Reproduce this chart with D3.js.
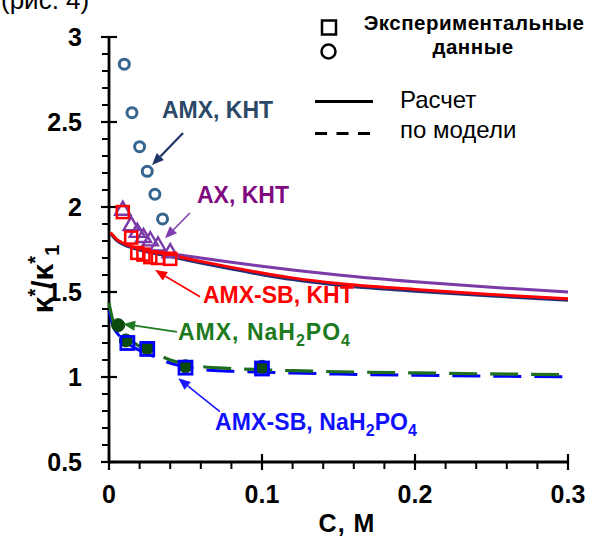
<!DOCTYPE html>
<html>
<head>
<meta charset="utf-8">
<script src="https://cdn.jsdelivr.net/npm/d3@7"></script>
<style>
  html, body { margin: 0; padding: 0; background: #fff; }
  svg { display: block; }
  text { font-family: "Liberation Sans", Arial, sans-serif; }
</style>
</head>
<body>
<svg id="chart" width="594" height="539"></svg>
<script>
// ---- Experimental data ----
const cAmxKHT = [0.01, 0.015, 0.02, 0.025, 0.03, 0.035];
const kAmxKHT = [2.84, 2.555, 2.355, 2.21, 2.075, 1.93];

const cSbKHT = [0.009, 0.0145, 0.0185, 0.0225, 0.027, 0.032, 0.04];
const kAxKHT = [1.98, 1.89, 1.85, 1.82, 1.80, 1.77, 1.73];
const kSbKHT = [1.97, 1.82, 1.73, 1.72, 1.705, 1.70, 1.695];

const cAmxPhos = [0.006, 0.011, 0.025, 0.05, 0.1];
const kAmxPhos = [1.305, 1.215, 1.17, 1.063, 1.06];
const cSbPhos = [0.012, 0.025, 0.05, 0.1];
const kSbPhos = [1.20, 1.165, 1.055, 1.05];

// ---- Model curves ----
const cModelKHT = [0.001, 0.005, 0.01, 0.02, 0.03, 0.04, 0.06, 0.08, 0.1, 0.12, 0.15, 0.2, 0.25, 0.3];
const mSbKHT    = [1.85, 1.81, 1.785, 1.755, 1.735, 1.718, 1.68, 1.645, 1.612, 1.583, 1.55, 1.515, 1.485, 1.46];
const mAmxKHT   = [1.845, 1.803, 1.777, 1.746, 1.726, 1.708, 1.67, 1.635, 1.602, 1.573, 1.54, 1.505, 1.476, 1.451];
const cModelAX  = [0.035, 0.04, 0.06, 0.08, 0.1, 0.12, 0.15, 0.2, 0.25, 0.3];
const mAxKHT    = [1.735, 1.727, 1.70, 1.675, 1.652, 1.63, 1.60, 1.56, 1.528, 1.50];

const cModelPhos = [0, 0.003, 0.006, 0.01, 0.015, 0.02, 0.025, 0.03, 0.04, 0.05, 0.06, 0.08, 0.1, 0.12, 0.15, 0.2, 0.25, 0.3];
const mAmxPhos   = [1.435, 1.32, 1.285, 1.245, 1.21, 1.18, 1.16, 1.14, 1.10, 1.077, 1.062, 1.05, 1.043, 1.037, 1.031, 1.024, 1.018, 1.014];
const mSbPhos    = [1.40, 1.30, 1.26, 1.22, 1.19, 1.165, 1.145, 1.128, 1.09, 1.068, 1.054, 1.043, 1.037, 1.032, 1.026, 1.019, 1.014, 1.01];

// ---- Axis ticks ----
const xMajor = [0, 0.1, 0.2, 0.3];
const xMajorLabels = ["0", "0.1", "0.2", "0.3"];
const yMajor = [0.5, 1, 1.5, 2, 2.5, 3];
const yMajorLabels = ["0.5", "1", "1.5", "2", "2.5", "3"];

// ---- Annotations (data units) ----
const labels = [
  { text: "AMX, KHT", x: 0.0346, y: 2.524, color: "#2b4868" },
  { text: "AX, KHT", x: 0.0575, y: 2.022, color: "#7f0a80" },
  { text: "AMX-SB, KHT", x: 0.0614, y: 1.434, color: "#ff0000" },
];
const arrows = [
  { x1: 0.0484, y1: 2.435, x2: 0.0281, y2: 2.247, color: "#1f3568", w: 2.2 },
  { x1: 0.0529, y1: 1.965, x2: 0.0366, y2: 1.816, color: "#7f3fb0", w: 1.6 },
  { x1: 0.0595, y1: 1.472, x2: 0.0301, y2: 1.629, color: "#ff0000", w: 1.6 },
  { x1: 0.0444, y1: 1.265, x2: 0.0092, y2: 1.312, color: "#1f7a1f", w: 1.8 },
  { x1: 0.0725, y1: 0.796, x2: 0.0453, y2: 0.992, color: "#1a1aff", w: 1.6 },
];

const svg = d3.select("#chart");
const x = d3.scaleLinear().domain([0, 0.3]).range([109, 568]);
const y = d3.scaleLinear().domain([0.5, 3]).range([462, 37]);

// caption line of the page above the figure, cut by the top edge
svg.append("text").attr("x", 1).attr("y", 9)
  .attr("font-family", "'Liberation Serif', serif").attr("font-size", 26)
  .text("(рис. 4)");

// ---- Axes ----
const ax = svg.append("g").attr("stroke", "#000");
// minor ticks
d3.range(0.02, 0.3, 0.02).forEach(v => {
  if (Math.abs(v * 10 - Math.round(v * 10)) < 1e-6) return;
  ax.append("line").attr("x1", x(v)).attr("x2", x(v)).attr("y1", y(0.5)).attr("y2", y(0.5) + 7).attr("stroke-width", 2);
});
d3.range(0.6, 3.0, 0.1).forEach(v => {
  if (Math.abs(v * 2 - Math.round(v * 2)) < 1e-6) return;
  ax.append("line").attr("x1", x(0) - 7).attr("x2", x(0)).attr("y1", y(v)).attr("y2", y(v)).attr("stroke-width", 2);
});
xMajor.forEach(v => ax.append("line").attr("x1", x(v)).attr("x2", x(v)).attr("y1", y(0.5) - 8).attr("y2", y(0.5) + 8).attr("stroke-width", 2.2));
yMajor.forEach(v => ax.append("line").attr("x1", x(0) - 8).attr("x2", x(0) + 8).attr("y1", y(v)).attr("y2", y(v)).attr("stroke-width", 2.2));
ax.append("line").attr("x1", x(0)).attr("x2", x(0.3)).attr("y1", y(0.5)).attr("y2", y(0.5)).attr("stroke-width", 2.8);
ax.append("line").attr("x1", x(0)).attr("x2", x(0)).attr("y1", y(0.5)).attr("y2", y(3)).attr("stroke-width", 2.8);

svg.append("g").selectAll("text").data(xMajor).join("text")
  .attr("x", d => x(d)).attr("y", 503).attr("text-anchor", "middle")
  .attr("font-size", 25).attr("font-weight", "bold").text((d, i) => xMajorLabels[i]);
svg.append("g").selectAll("text").data(yMajor).join("text")
  .attr("x", 82).attr("y", d => y(d) + 9).attr("text-anchor", "end")
  .attr("font-size", 25).attr("font-weight", "bold").text((d, i) => yMajorLabels[i]);

svg.append("text").attr("x", 347).attr("y", 532).attr("text-anchor", "middle")
  .attr("font-size", 25).attr("font-weight", "bold").attr("letter-spacing", 1).text("C, M");

const yt = svg.append("text").attr("transform", "translate(53,279) rotate(-90)")
  .attr("text-anchor", "middle").attr("font-size", 30).attr("font-weight", "bold");
yt.append("tspan").text("κ");
yt.append("tspan").attr("dy", -11).attr("font-size", 20).text("*");
yt.append("tspan").attr("dy", 11).text("/κ");
yt.append("tspan").attr("dy", -11).attr("font-size", 20).text("*");
yt.append("tspan").attr("dy", 17).attr("font-size", 20).text("1");

// ---- Model lines ----
const line = d3.line().x(d => x(d[0])).y(d => y(d[1])).curve(d3.curveMonotoneX);
const zip = (a, b) => a.map((v, i) => [v, b[i]]);

const plot = svg.append("g");
plot.append("path").datum(zip(cModelPhos, mSbPhos)).attr("d", line)
  .attr("fill", "none").attr("stroke", "#0000ff").attr("stroke-width", 3).attr("stroke-dasharray", "28,13")
  .attr("transform", "translate(0,1.5)");
plot.append("path").datum(zip(cModelPhos, mAmxPhos)).attr("d", line)
  .attr("fill", "none").attr("stroke", "#1f6e1f").attr("stroke-width", 3.2).attr("stroke-dasharray", "28,13");
plot.append("path").datum(zip(cModelKHT, mAmxKHT)).attr("d", line)
  .attr("fill", "none").attr("stroke", "#1f2f78").attr("stroke-width", 3);
plot.append("path").datum(zip(cModelAX, mAxKHT)).attr("d", line)
  .attr("fill", "none").attr("stroke", "#7a3aa8").attr("stroke-width", 3);
plot.append("path").datum(zip(cModelKHT, mSbKHT)).attr("d", line)
  .attr("fill", "none").attr("stroke", "#ff0000").attr("stroke-width", 3);

// ---- Markers ----
const tri = d3.symbol().type(d3.symbolTriangle).size(100);
plot.append("g").selectAll("path").data(zip(cSbKHT, kAxKHT)).join("path")
  .attr("d", tri).attr("transform", d => `translate(${x(d[0])},${y(d[1])})`)
  .attr("fill", "none").attr("stroke", "#7a3aa8").attr("stroke-width", 2.4);
plot.append("g").selectAll("rect").data(zip(cSbKHT, kSbKHT)).join("rect")
  .attr("x", d => x(d[0]) - 6).attr("y", d => y(d[1]) - 6).attr("width", 12).attr("height", 12)
  .attr("fill", "none").attr("stroke", "#ff0000").attr("stroke-width", 2.5);
plot.append("g").selectAll("circle").data(zip(cAmxKHT, kAmxKHT)).join("circle")
  .attr("cx", d => x(d[0])).attr("cy", d => y(d[1])).attr("r", 5)
  .attr("fill", "none").attr("stroke", "#35668f").attr("stroke-width", 3);
plot.append("g").selectAll("circle").data(zip(cAmxPhos, kAmxPhos)).join("circle")
  .attr("cx", d => x(d[0])).attr("cy", d => y(d[1])).attr("r", 6.5)
  .attr("fill", "#0b4a0b").attr("stroke", "#0b4a0b").attr("stroke-width", 1);
plot.append("g").selectAll("rect").data(zip(cSbPhos, kSbPhos)).join("rect")
  .attr("x", d => x(d[0]) - 6.5).attr("y", d => y(d[1]) - 6.5).attr("width", 13).attr("height", 13)
  .attr("fill", "none").attr("stroke", "#0000ff").attr("stroke-width", 2.8);

// ---- Arrows ----
arrows.forEach(a => {
  const x1 = x(a.x1), y1 = y(a.y1), x2 = x(a.x2), y2 = y(a.y2);
  const ang = Math.atan2(y2 - y1, x2 - x1);
  const L = 12, W = 5;
  const bx = x2 - L * Math.cos(ang), by = y2 - L * Math.sin(ang);
  svg.append("line").attr("x1", x1).attr("y1", y1).attr("x2", bx).attr("y2", by)
    .attr("stroke", a.color).attr("stroke-width", a.w);
  svg.append("path")
    .attr("d", `M${x2},${y2}L${bx + W * Math.sin(ang)},${by - W * Math.cos(ang)}L${bx - W * Math.sin(ang)},${by + W * Math.cos(ang)}Z`)
    .attr("fill", a.color);
});

// ---- Labels ----
labels.forEach(l => {
  svg.append("text").attr("x", x(l.x)).attr("y", y(l.y)).attr("fill", l.color)
    .attr("font-size", 23).attr("font-weight", "bold").text(l.text);
});
function chemLabel(prefix, xv, yv, color, spacing) {
  const t = svg.append("text").attr("x", x(xv)).attr("y", y(yv)).attr("fill", color)
    .attr("font-size", 23).attr("font-weight", "bold").attr("letter-spacing", spacing);
  t.append("tspan").text(prefix + "NaH");
  t.append("tspan").attr("dy", 6).attr("font-size", 16).text("2");
  t.append("tspan").attr("dy", -6).text("PO");
  t.append("tspan").attr("dy", 6).attr("font-size", 16).text("4");
}
chemLabel("AMX, ", 0.0451, 1.218, "#1e7a1e", 1.0);
chemLabel("AMX-SB, ", 0.0693, 0.688, "#1010ff", 0.1);

// ---- Legend ----
const lg = svg.append("g");
lg.append("rect").attr("x", 322).attr("y", 20.5).attr("width", 14).attr("height", 14)
  .attr("fill", "none").attr("stroke", "#000").attr("stroke-width", 2.5);
lg.append("circle").attr("cx", 328.5).attr("cy", 51.5).attr("r", 7)
  .attr("fill", "none").attr("stroke", "#000").attr("stroke-width", 2.5);
lg.append("text").attr("x", 474).attr("y", 30).attr("text-anchor", "middle")
  .attr("font-size", 20.5).attr("font-weight", "bold").attr("letter-spacing", 0.5).text("Экспериментальные");
lg.append("text").attr("x", 473).attr("y", 54).attr("text-anchor", "middle")
  .attr("font-size", 20.5).attr("font-weight", "bold").attr("letter-spacing", 0.5).text("данные");
lg.append("line").attr("x1", 315).attr("x2", 373).attr("y1", 101.5).attr("y2", 101.5)
  .attr("stroke", "#000").attr("stroke-width", 3);
lg.append("line").attr("x1", 315).attr("x2", 373).attr("y1", 133.5).attr("y2", 133.5)
  .attr("stroke", "#000").attr("stroke-width", 3).attr("stroke-dasharray", "12,9.5");
lg.append("text").attr("x", 400).attr("y", 108).attr("font-size", 24).text("Расчет");
lg.append("text").attr("x", 400).attr("y", 138).attr("font-size", 24).text("по модели");
</script>
</body>
</html>
